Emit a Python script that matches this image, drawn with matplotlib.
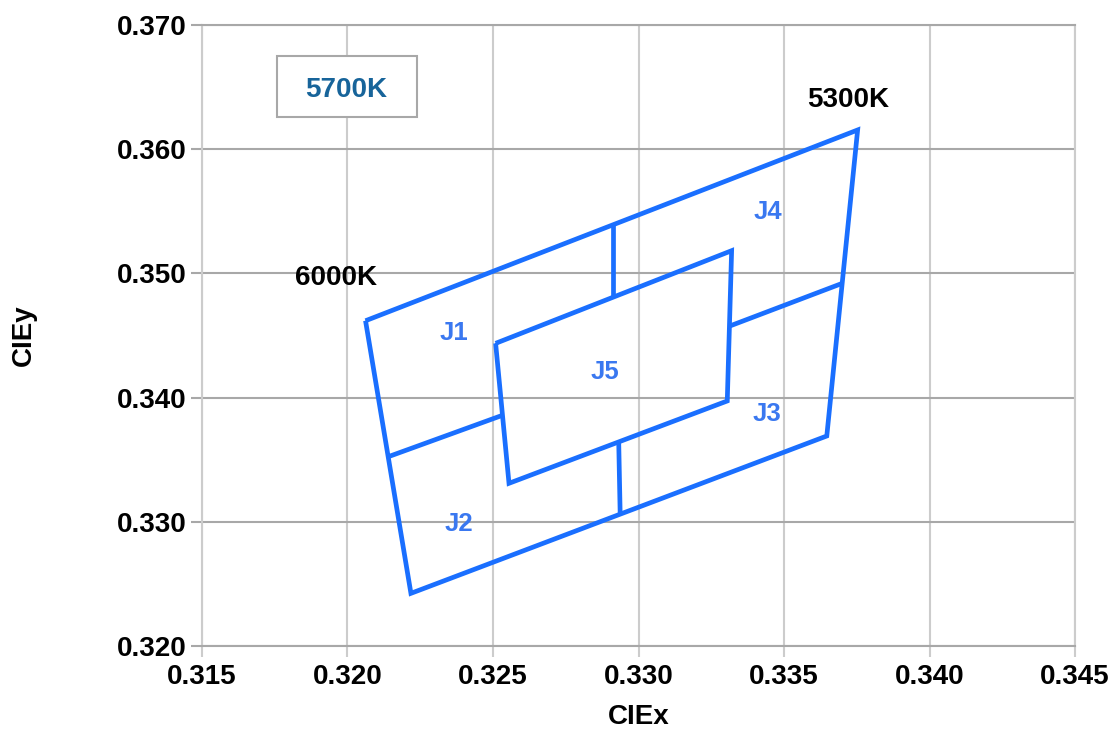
import numpy as np
import matplotlib.pyplot as plt
from matplotlib.patches import Rectangle

plt.rcParams['font.family'] = ['Liberation Sans', 'DejaVu Sans']
plt.rcParams['font.weight'] = 'bold'

# outer bin boundary (6000K top, 5300K top, 5300K bottom, 6000K bottom)
outer_x = [0.32062, 0.33753, 0.33647, 0.32218, 0.32062]
outer_y = [0.34619, 0.36155, 0.33691, 0.32424, 0.34619]

# inner J5 bin
j5_x = [0.32509, 0.33320, 0.33305, 0.32555, 0.32509]
j5_y = [0.34437, 0.35183, 0.33973, 0.33310, 0.34437]

# divider segments between outer and J5
div_left_x = [0.32140, 0.32533]
div_left_y = [0.33524, 0.33858]
div_right_x = [0.33312, 0.33700]
div_right_y = [0.34575, 0.34920]
div_top_x = [0.32911, 0.32911]
div_top_y = [0.35390, 0.34807]
div_bottom_x = [0.32932, 0.32937]
div_bottom_y = [0.33643, 0.33062]

bin_names = ['J1', 'J2', 'J3', 'J4', 'J5']
bin_x = [0.32366, 0.32384, 0.33442, 0.33445, 0.32884]
bin_y = [0.34520, 0.32982, 0.33868, 0.35494, 0.34206]

cct_names = ['6000K', '5300K']
cct_x = [0.31962, 0.33722]
cct_y = [0.34963, 0.36396]

line_color = '#1a6fff'

fig = plt.figure(figsize=(11.19, 7.34), dpi=100)
ax = fig.add_axes([0.1805, 0.1199, 0.7802, 0.8460])

for xs, ys in [(outer_x, outer_y), (j5_x, j5_y),
               (div_left_x, div_left_y), (div_right_x, div_right_y),
               (div_top_x, div_top_y), (div_bottom_x, div_bottom_y)]:
    ax.plot(xs, ys, color=line_color, lw=3.4, solid_joinstyle='miter',
            solid_capstyle='butt', zorder=3)

for name, x, y in zip(bin_names, bin_x, bin_y):
    ax.text(x, y, name, color='#3a78f0', fontsize=18.5, fontweight='bold',
            ha='center', va='center', zorder=4)

for name, x, y in zip(cct_names, cct_x, cct_y):
    ax.text(x, y, name, color='black', fontsize=20, fontweight='bold',
            ha='center', va='center', zorder=4)

# 5700K label box
ax.add_patch(Rectangle((0.31757, 0.36259), 0.00483, 0.00491, fc='white',
                       ec='#a8a8a8', lw=1.5, zorder=4))
ax.text(0.31997, 0.36480, '5700K', color='#17649a', fontsize=20, fontweight='bold',
        ha='center', va='center', zorder=5)

ax.set_xlim(0.315, 0.345)
ax.set_ylim(0.320, 0.370)
ax.set_xticks(np.arange(0.315, 0.3451, 0.005))
ax.set_yticks(np.arange(0.320, 0.3701, 0.010))
ax.set_xticklabels([f'{v:.3f}' for v in np.arange(0.315, 0.3451, 0.005)])
ax.set_yticklabels([f'{v:.3f}' for v in np.arange(0.320, 0.3701, 0.010)])

ax.xaxis.grid(True, color='#cccccc', lw=1.5)
ax.yaxis.grid(True, color='#a8a8a8', lw=1.5)
ax.set_axisbelow(True)
for side in ['left', 'right']:
    ax.spines[side].set_color('#cccccc')
    ax.spines[side].set_linewidth(1.5)
for side in ['top', 'bottom']:
    ax.spines[side].set_color('#a8a8a8')
    ax.spines[side].set_linewidth(1.5)

ax.tick_params(axis='x', length=8, width=1.5, color='#cccccc', labelsize=20, pad=5)
ax.tick_params(axis='y', length=8, width=1.5, color='#a8a8a8', labelsize=20, pad=3)

ax.set_xlabel('CIEx', fontsize=20, fontweight='bold', labelpad=10)
ax.set_ylabel('CIEy', fontsize=20, fontweight='bold', labelpad=58)

fig.savefig('out.png', dpi=100)
